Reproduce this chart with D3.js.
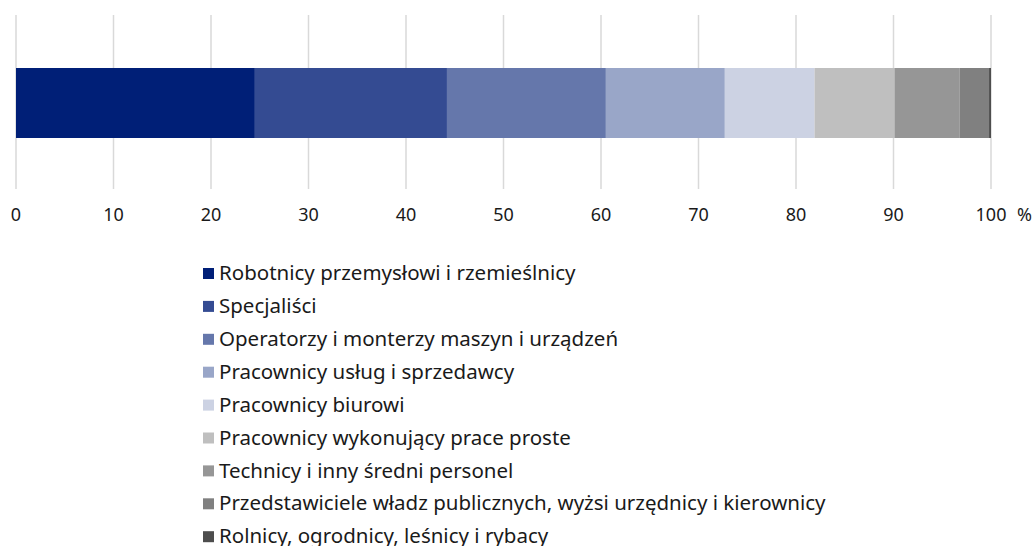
<!DOCTYPE html>
<html>
<head>
<meta charset="utf-8">
<script src="https://cdn.jsdelivr.net/npm/d3@7"></script>
<style>
  body { margin: 0; background: #fff; }
  svg { display: block; font-family: "Noto Sans", sans-serif; }
</style>
</head>
<body>
<svg id="chart"></svg>
<script>
// occupation groups, share in %
const categories = [
  'Robotnicy przemysłowi i rzemieślnicy',
  'Specjaliści',
  'Operatorzy i monterzy maszyn i urządzeń',
  'Pracownicy usług i sprzedawcy',
  'Pracownicy biurowi',
  'Pracownicy wykonujący prace proste',
  'Technicy i inny średni personel',
  'Przedstawiciele władz publicznych, wyżsi urzędnicy i kierownicy',
  'Rolnicy, ogrodnicy, leśnicy i rybacy'
];
const values = [24.5, 19.7, 16.3, 12.2, 9.2, 8.2, 6.7, 3.0, 0.2];
const colors = ['#001f77', '#344b92', '#6577ab', '#99a6c8', '#ccd2e3', '#bfbfbf', '#969696', '#808080', '#4d4d4d'];
const ticks = [0, 10, 20, 30, 40, 50, 60, 70, 80, 90, 100];

const width = 1036, height = 546;
const svg = d3.select('#chart').attr('width', width).attr('height', height);

const x = d3.scaleLinear().domain([0, 100]).range([16, 991]);

// gridlines
svg.append('g')
  .selectAll('line')
  .data(ticks)
  .enter().append('line')
  .attr('x1', d => x(d)).attr('x2', d => x(d))
  .attr('y1', 15).attr('y2', 189)
  .style('stroke', '#d9d9d9')
  .style('stroke-width', 1.5);

// stacked segments
let acc = 0;
const segs = values.map((v, i) => {
  const s = { name: categories[i], x0: acc, x1: acc + v, color: colors[i] };
  acc += v;
  return s;
});

svg.append('g')
  .selectAll('rect')
  .data(segs)
  .enter().append('rect')
  .attr('x', d => x(d.x0))
  .attr('width', d => x(d.x1) - x(d.x0))
  .attr('y', 68)
  .attr('height', 70)
  .style('fill', d => d.color);

// tick labels
svg.append('g')
  .selectAll('text')
  .data(ticks)
  .enter().append('text')
  .attr('x', d => x(d))
  .attr('y', 221)
  .attr('text-anchor', 'middle')
  .style('font-size', '18px')
  .style('fill', '#1a1a1a')
  .text(d => d);

svg.append('text')
  .attr('x', 1017)
  .attr('y', 221)
  .attr('text-anchor', 'start')
  .style('font-size', '18px')
  .style('fill', '#1a1a1a')
  .text('%');

// legend
const legend = svg.append('g')
  .selectAll('g')
  .data(segs)
  .enter().append('g')
  .attr('transform', (d, i) => 'translate(203,' + (273 + i * 32.9) + ')');

legend.append('rect')
  .attr('x', 0).attr('y', -5)
  .attr('width', 11).attr('height', 11)
  .style('fill', d => d.color);

legend.append('text')
  .attr('x', 16)
  .attr('dy', '.35em')
  .style('font-size', '20.5px')
  .style('fill', '#1a1a1a')
  .text(d => d.name);
</script>
</body>
</html>
